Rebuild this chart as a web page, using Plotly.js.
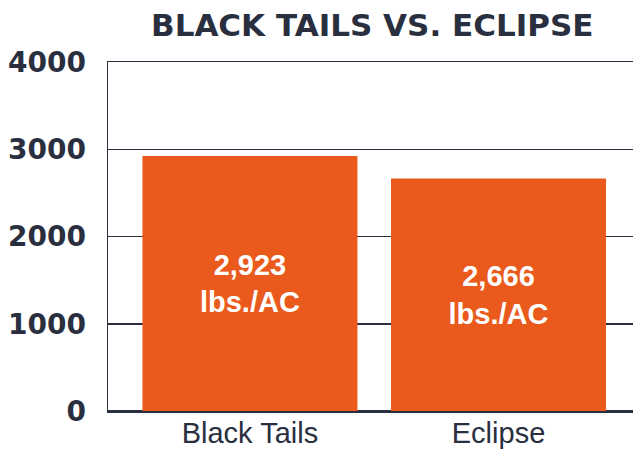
<!DOCTYPE html>
<html>
<head>
<meta charset="utf-8">
<script src="https://cdn.plot.ly/plotly-3.0.1.min.js"></script>
<style>html,body{margin:0;padding:0;background:#fff;}#chart{width:633px;height:450px;}</style>
</head>
<body>
<div id="chart"></div>
<script>
const categories = ["Black Tails", "Eclipse"];
const yields = [2923, 2666];
const barLabels = ["2,923<br>lbs./AC", "2,666<br>lbs./AC"];
const yTicks = [0, 1000, 2000, 3000, 4000];

const navy = "#2a2f3f";

const trace = {
  type: "bar",
  x: [0, 1],
  y: yields,
  width: 0.865,
  marker: {color: "#e95a1c", line: {width: 0}},
  text: barLabels,
  textposition: "inside",
  insidetextanchor: "middle",
  textangle: 0,
  textfont: {family: "Liberation Sans, Arial, sans-serif", size: 29, color: "#ffffff", weight: "bold"},
  hoverinfo: "skip",
  cliponaxis: false
};

const layout = {
  width: 633,
  height: 450,
  margin: {l: 108, r: 0, t: 62, b: 39, pad: 0},
  paper_bgcolor: "#ffffff",
  plot_bgcolor: "#ffffff",
  showlegend: false,
  title: {
    text: "<b>BLACK TAILS VS. ECLIPSE</b>",
    x: 0.588, xanchor: "center",
    y: 0.945, yanchor: "middle",
    font: {family: "DejaVu Sans, sans-serif", size: 31, color: navy}
  },
  xaxis: {
    range: [-0.571, 1.541],
    tickmode: "array",
    tickvals: [0, 1],
    ticktext: categories,
    showgrid: false,
    zeroline: false,
    showline: true,
    mirror: true,
    linecolor: navy,
    linewidth: 1.5,
    ticks: "",
    ticklabelstandoff: -4,
    tickfont: {family: "Liberation Sans, Arial, sans-serif", size: 29, color: navy}
  },
  yaxis: {
    range: [0, 4000],
    tickmode: "array",
    tickvals: yTicks,
    ticktext: yTicks.map(String),
    showgrid: true,
    gridcolor: navy,
    gridwidth: 1.5,
    zeroline: true,
    zerolinecolor: navy,
    zerolinewidth: 1.5,
    showline: true,
    linecolor: navy,
    linewidth: 1.5,
    ticks: "",
    ticklabelstandoff: 15,
    tickfont: {family: "DejaVu Sans, sans-serif", size: 28, color: navy, weight: "bold"}
  }
};

Plotly.newPlot("chart", [trace], layout, {displayModeBar: false, staticPlot: true});
</script>
</body>
</html>
